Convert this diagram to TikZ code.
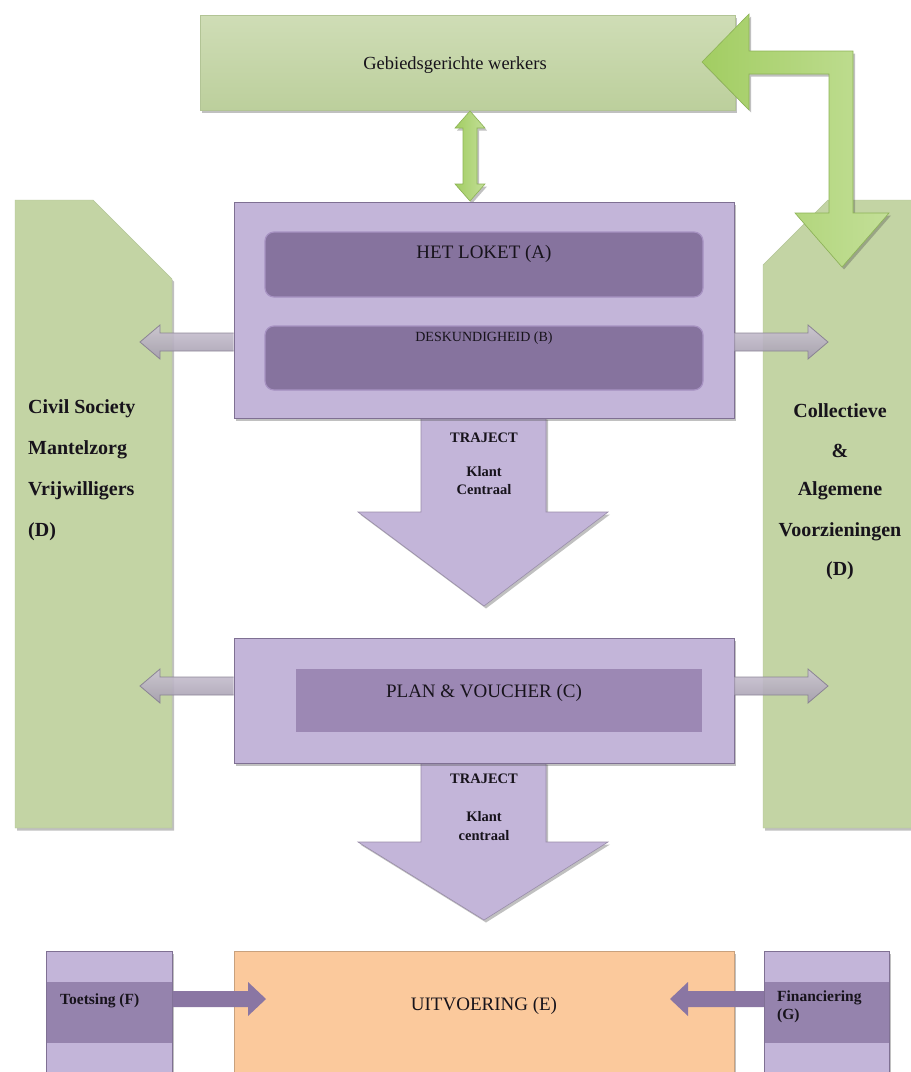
\documentclass[tikz,border=0pt]{standalone}
\usepackage{fontspec}
\setmainfont{Liberation Serif}
\usetikzlibrary{shadows}
\definecolor{txt}{HTML}{17131B}
\definecolor{gtop}{HTML}{CFDDB6}
\definecolor{gbot}{HTML}{BCCF9C}
\definecolor{gcol}{HTML}{C3D4A4}
\definecolor{gline}{HTML}{B2C495}
\definecolor{garr}{HTML}{A2CD62}
\definecolor{garr2}{HTML}{C3DF98}
\definecolor{garrline}{HTML}{8DB356}
\definecolor{lav}{HTML}{C3B5D9}
\definecolor{lavline}{HTML}{7F7093}
\definecolor{dpur}{HTML}{86739E}
\definecolor{dpurline}{HTML}{A792C2}
\definecolor{mpur}{HTML}{9C88B4}
\definecolor{bandpur}{HTML}{9583AD}
\definecolor{arrpur}{HTML}{8A76A3}
\definecolor{graytop}{HTML}{CCC5D3}
\definecolor{graybot}{HTML}{A59DB0}
\definecolor{grayline}{HTML}{857D90}
\definecolor{orng}{HTML}{FBC99C}
\begin{document}
\begin{tikzpicture}[x=1pt,y=-1pt,
  every node/.style={text=txt, inner sep=0pt, align=center},
  shad/.style={drop shadow={shadow xshift=2pt, shadow yshift=-2.5pt, opacity=0.35, fill=black!70}},
  greenbox/.style={draw=gline, top color=gtop, bottom color=gbot, shad},
  greencol/.style={draw=gline, fill=gcol, shad},
  lavbox/.style={draw=lavline, line width=0.6pt, fill=lav, shad},
  innerbox/.style={draw=dpurline, line width=1.2pt, fill=dpur, rounded corners=9pt},
  planinner/.style={fill=mpur, draw=none},
  trajarrow/.style={draw=lavline!80, line width=0.6pt, fill=lav, shad},
  grayarrow/.style={draw=grayline, line width=0.8pt, top color=graytop, bottom color=graybot, opacity=0.9},
  bigarrow/.style={draw=garrline, line width=0.6pt, left color=garr, right color=garr2, shad},
  orangebox/.style={draw=orng!80!black, line width=0.4pt, fill=orng, shad},
  sidecol/.style={draw=lavline, line width=0.6pt, fill=lav, shad},
  band/.style={fill=bandpur, draw=none},
  purarrow/.style={fill=arrpur, draw=none},
  head/.style={font=\fontsize{19}{22}\selectfont},
  sidetxt/.style={font=\fontsize{20}{22}\selectfont\bfseries},
  trajtxt/.style={font=\fontsize{14.5}{16}\selectfont\bfseries},
  smalltxt/.style={font=\fontsize{15.5}{18}\selectfont\bfseries, align=left}
]
\useasboundingbox (0,0) rectangle (911,1072);
\fill[white] (0,0) rectangle (911,1072);
\clip (0,0) rectangle (911,1072);

% side green columns
\path[greencol] (15,200) -- (93,200) -- (172,279) -- (172,828) -- (15,828) -- cycle;
\path[greencol] (763,265) -- (828,200) -- (915,200) -- (915,828) -- (763,828) -- cycle;

% top green box
\node[greenbox, minimum width=535, minimum height=95] (geb) at (467.5,62.5) {};
\node[head, font=\fontsize{18.5}{22}\selectfont] (gebt) at (455,65) {Gebiedsgerichte werkers};

% L-shaped green arrow
\path[bigarrow] (702,62) -- (749,14) -- (749,51) -- (853,51) -- (853,213) -- (889,213)
  -- (842,267) -- (795,213) -- (829,213) -- (829,74) -- (749,74) -- (749,110) -- cycle;

% double green arrow
\path[bigarrow] (470,111) -- (485,128) -- (477,128) -- (477,184) -- (485,184) -- (470,201)
  -- (455,184) -- (463,184) -- (463,128) -- (455,128) -- cycle;

% traject arrows
\path[trajarrow] (421,417) -- (546,417) -- (546,512) -- (608,512) -- (484,606) -- (358,512) -- (421,512) -- cycle;
\path[trajarrow] (421,762) -- (546,762) -- (546,842) -- (608,842) -- (484,920) -- (358,842) -- (421,842) -- cycle;

% box A / B
\node[lavbox, minimum width=500, minimum height=216] (boxab) at (484,310) {};
\node[innerbox, minimum width=438, minimum height=65] (loket) at (484,264.5) {};
\node[head] (loketT) at (484,254) {HET LOKET (A)};
\node[innerbox, minimum width=438, minimum height=64] (desk) at (484,358) {};
\node[font=\fontsize{14}{16}\selectfont] (deskT) at (484,338) {DESKUNDIGHEID (B)};

% plan box
\node[lavbox, minimum width=500, minimum height=125] (plan) at (484,700.5) {};
\node[planinner, minimum width=406, minimum height=63] (planin) at (499,700.5) {};
\node[head] (planT) at (484,693) {PLAN \& VOUCHER (C)};

% gray arrows
\path[grayarrow] (boxab.west |- 0,333) -- (160,333) -- (160,325) -- (140,342) -- (160,359) -- (160,351) -- (boxab.west |- 0,351);
\path[grayarrow] (boxab.east |- 0,333) -- (808,333) -- (808,325) -- (828,342) -- (808,359) -- (808,351) -- (boxab.east |- 0,351);
\path[grayarrow] (plan.west |- 0,677) -- (160,677) -- (160,669) -- (140,686) -- (160,703) -- (160,695) -- (plan.west |- 0,695);
\path[grayarrow] (plan.east |- 0,677) -- (808,677) -- (808,669) -- (828,686) -- (808,703) -- (808,695) -- (plan.east |- 0,695);

% traject texts
\node[trajtxt] (tr1) at (484,438) {TRAJECT};
\node[trajtxt] (kl1) at (484,472) {Klant};
\node[trajtxt] (ce1) at (484,490) {Centraal};
\node[trajtxt] (tr2) at (484,779) {TRAJECT};
\node[trajtxt] (kl2) at (484,817) {Klant};
\node[trajtxt] (ce2) at (484,836) {centraal};

% side texts
\node[sidetxt, anchor=west] (cs) at (28,409) {Civil Society};
\node[sidetxt, anchor=west] (mz) at (28,450) {Mantelzorg};
\node[sidetxt, anchor=west] (vw) at (28,491) {Vrijwilligers};
\node[sidetxt, anchor=west] (d1) at (28,532) {(D)};
\node[sidetxt] (co) at (840,411) {Collectieve};
\node[sidetxt] (en) at (840,451) {\&};
\node[sidetxt] (al) at (840,491) {Algemene};
\node[sidetxt] (vz) at (840,532) {Voorzieningen};
\node[sidetxt] (d2) at (840,571) {(D)};

% bottom row
\node[orangebox, minimum width=500, minimum height=140, anchor=north west] (uit) at (234,951) {};
\node[head] (uitT) at (484,1006) {UITVOERING (E)};
\node[sidecol, minimum width=126, minimum height=140, anchor=north west] (toe) at (46,951) {};
\node[band, minimum width=125, minimum height=61, anchor=north west] (toeb) at (46.3,982) {};
\node[smalltxt, anchor=west] (toeT) at (60,1001) {Toetsing (F)};
\node[sidecol, minimum width=125, minimum height=140, anchor=north west] (fin) at (764,951) {};
\node[band, minimum width=124, minimum height=61, anchor=north west] (finb) at (764.3,982) {};
\node[smalltxt, anchor=north west] (finT) at (777,991) {Financiering\\(G)};

\path[purarrow] (toe.east |- 0,991) -- (248,991) -- (248,982) -- (266,999) -- (248,1016) -- (248,1007) -- (toe.east |- 0,1007) -- cycle;
\path[purarrow] (fin.west |- 0,991) -- (688,991) -- (688,982) -- (670,999) -- (688,1016) -- (688,1007) -- (fin.west |- 0,1007) -- cycle;
\end{tikzpicture}
\end{document}
